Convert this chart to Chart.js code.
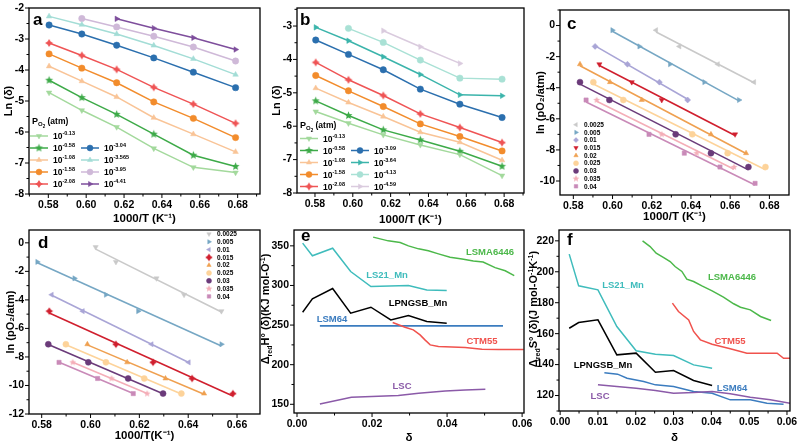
<!DOCTYPE html>
<html>
<head>
<meta charset="utf-8">
<script src="https://cdn.jsdelivr.net/npm/chart.js@4.4.1/dist/chart.umd.min.js"></script>
<style>
html, body { margin: 0; padding: 0; background: #fff; }
#wrap { position: relative; width: 802px; height: 446px; overflow: hidden; }
#wrap canvas { position: absolute; left: 0; top: 0; }
</style>
</head>
<body>
<div id="wrap">
  <canvas id="pa" width="802" height="446"></canvas>
  <canvas id="pb" width="802" height="446"></canvas>
  <canvas id="pc" width="802" height="446"></canvas>
  <canvas id="pd" width="802" height="446"></canvas>
  <canvas id="pe" width="802" height="446"></canvas>
  <canvas id="pf" width="802" height="446"></canvas>
</div>
<script>
// 1000/T of the measured temperatures (a, b)
const invT = [0.5804, 0.5977, 0.6161, 0.6357, 0.6566, 0.6789];

// panel a : ln(delta), one array per pO2
const aPO2 = ['-0.13', '-0.58', '-1.08', '-1.58', '-2.08', '-3.04', '-3.565', '-3.95', '-4.41'];
const a013 = [-4.73, -5.30, -5.84, -6.53, -7.14, -7.31];
const a058 = [-4.33, -4.89, -5.43, -6.07, -6.75, -7.11];
const a108 = [-3.88, -4.36, -4.87, -5.54, -6.07, -6.64];
const a158 = [-3.48, -3.94, -4.41, -5.03, -5.56, -6.18];
const a208 = [-3.13, -3.53, -3.98, -4.56, -5.10, -5.72];
const a304 = [-2.55, -2.84, -3.20, -3.61, -4.07, -4.57];
const a3565 = [-2.27, -2.54, -2.84, -3.21, -3.64, -4.15];
const a395 = [null, -2.34, -2.61, -2.91, -3.26, -3.71];
const a441 = [null, null, -2.35, -2.65, -2.96, -3.34];

// panel b
const bPO2 = ['-0.13', '-0.58', '-1.08', '-1.58', '-2.08', '-3.09', '-3.64', '-4.13', '-4.59'];
const b013 = [-5.56, -5.91, -6.26, -6.56, -6.85, -7.48];
const b058 = [-5.24, -5.68, -6.11, -6.41, -6.75, -7.20];
const b108 = [-4.86, -5.29, -5.71, -6.18, -6.48, -7.02];
const b158 = [-4.48, -4.94, -5.41, -5.93, -6.31, -6.74];
const b208 = [-4.09, -4.61, -5.08, -5.63, -6.04, -6.49];
const b309 = [-3.42, -3.85, -4.31, -4.89, -5.34, -5.74];
const b364 = [-3.04, -3.44, -3.92, -4.45, -5.06, -5.09];
const b413 = [null, -3.07, -3.49, -4.02, -4.56, -4.59];
const b459 = [null, null, -3.14, -3.62, -4.12, null];

// panel c : ln(pO2) levels and 1000/T at each level for every delta
const deltaNames = ['0.0025', '0.005', '0.01', '0.015', '0.02', '0.025', '0.03', '0.035', '0.04'];
const lnPa = [-0.30, -1.34, -2.49, -3.64, -4.79, -7.00, -8.21, -9.10, -10.15];
const c0025 = [0.6222, 0.6341, 0.6537, 0.6722, null, null, null, null, null];
const c005 = [0.5999, 0.6137, 0.6293, 0.6468, 0.6645, null, null, null, null];
const c01 = [null, 0.5911, 0.6076, 0.6239, 0.6383, null, null, null, null];
const c015 = [null, null, 0.5933, 0.6098, 0.6251, 0.6625, null, null, null];
const c02 = [null, null, 0.5834, 0.5987, 0.6149, 0.6502, 0.6681, null, null];
const c025 = [null, null, null, 0.5902, 0.6055, 0.6407, 0.6587, 0.6780, null];
const c03 = [null, null, null, 0.5834, 0.5984, 0.6322, 0.6502, 0.6693, null];
const c035 = [null, null, null, null, 0.5919, 0.6251, 0.6429, 0.6620, null];
const c04 = [null, null, null, null, 0.5865, 0.6186, 0.6366, 0.6548, 0.6727];

// panel d
const lnPb = [-0.30, -1.34, -2.49, -3.64, -4.79, -7.11, -8.38, -9.51, -10.57];
const d0025 = [0.6021, 0.6104, 0.6270, 0.6383, 0.6536, null, null, null, null];
const d005 = [null, 0.5782, 0.5934, 0.6063, 0.6195, 0.6536, null, null, null];
const d01 = [null, null, null, 0.5841, 0.5968, 0.6250, 0.6402, null, null];
const d015 = [null, null, null, null, 0.5831, 0.6104, 0.6256, 0.6416, 0.6583];
const d02 = [null, null, null, null, null, 0.5987, 0.6150, 0.6307, 0.6465];
const d025 = [null, null, null, null, null, 0.5899, 0.6063, 0.6220, 0.6372];
const d03 = [null, null, null, null, null, 0.5827, 0.5991, 0.6154, 0.6297];
const d035 = [null, null, null, null, null, null, 0.5927, 0.6086, 0.6232];
const d04 = [null, null, null, null, null, null, 0.5871, 0.6029, 0.6175];

// panel e : enthalpy vs delta
const eLS21x = [0.0015, 0.0041, 0.0095, 0.0143, 0.0197, 0.0297, 0.0346, 0.0399];
const eLS21y = [353.4, 337.4, 347.0, 317.6, 298.6, 299.9, 294.4, 293.6];
const ePNx = [0.0015, 0.0041, 0.0095, 0.0143, 0.0197, 0.0250, 0.0297, 0.0346, 0.0399];
const ePNy = [266.2, 283.0, 296.1, 265.0, 272.5, 256.5, 262.0, 254.4, 252.3];
const eLSM64x = [0.0061, 0.0549];
const eLSM64y = [249, 249];
const eCTMx = [0.0255, 0.0288, 0.0310, 0.0328, 0.0341, 0.0355, 0.0377, 0.0413, 0.0448, 0.0493, 0.0537, 0.0604];
const eCTMy = [253.2, 247.3, 243.9, 237.6, 231.3, 225.0, 222.9, 222.4, 221.6, 219.5, 219.0, 219.0];
const eLSMAx = [0.0203, 0.0243, 0.0275, 0.0297, 0.0324, 0.0350, 0.0377, 0.0408, 0.0440, 0.0470, 0.0496, 0.0528, 0.0555, 0.0579];
const eLSMAy = [361.0, 356.3, 354.2, 350.0, 346.2, 343.7, 339.9, 335.7, 333.5, 331.0, 329.5, 322.5, 318.5, 312.5];
const eLSCx = [0.0061, 0.0145, 0.0199, 0.0270, 0.0324, 0.0395, 0.0448, 0.0502];
const eLSCy = [150.4, 158.8, 159.7, 161.0, 163.9, 166.8, 168.0, 168.9];

// panel f : entropy vs delta
const fLS21x = [0.0024, 0.0049, 0.0100, 0.0150, 0.0201, 0.0252, 0.0300, 0.0353, 0.0402];
const fLS21y = [211.4, 190.9, 188.3, 164.6, 148.9, 146.7, 145.9, 139.8, 137.7];
const fPNx = [0.0024, 0.0049, 0.0100, 0.0150, 0.0201, 0.0252, 0.0300, 0.0353, 0.0402];
const fPNy = [163.5, 167.2, 168.9, 146.3, 147.4, 135.1, 136.2, 129.7, 126.5];
const fLSM64x = [0.0117, 0.0152, 0.0177, 0.0221, 0.0252, 0.0300, 0.0353, 0.0402, 0.0450, 0.0503, 0.0547, 0.0591];
const fLSM64y = [134.7, 133.8, 131.2, 129.1, 126.9, 125.8, 122.6, 121.5, 117.2, 117.2, 115.0, 114.4];
const fLSCx = [0.0100, 0.0150, 0.0201, 0.0252, 0.0300, 0.0353, 0.0402, 0.0450, 0.0503, 0.0556, 0.0609];
const fLSCy = [126.9, 125.8, 124.7, 123.2, 121.5, 121.9, 122.6, 121.1, 118.9, 117.2, 115.0];
const fLSMAx = [0.0218, 0.0238, 0.0254, 0.0274, 0.0291, 0.0304, 0.0322, 0.0335, 0.0353, 0.0375, 0.0402, 0.0432, 0.0459, 0.0477, 0.0503, 0.0530, 0.0558];
const fLSMAy = [220.0, 216.3, 212.0, 209.2, 206.6, 203.4, 200.2, 195.2, 193.7, 190.9, 187.7, 183.6, 179.3, 177.1, 175.4, 171.1, 168.5];
const fCTMx = [0.0297, 0.0313, 0.0340, 0.0353, 0.0371, 0.0402, 0.0450, 0.0494, 0.0543, 0.0574, 0.0591, 0.0609];
const fCTMy = [179.7, 174.3, 168.9, 161.4, 156.0, 153.2, 150.2, 147.4, 147.4, 147.4, 144.1, 144.1];

// tick labels
const abXTicks = [0.58, 0.60, 0.62, 0.64, 0.66, 0.68];
const aYTicks = [-8, -7, -6, -5, -4, -3, -2];
const bYTicks = [-8, -7, -6, -5, -4, -3];
const cYTicks = [-10, -8, -6, -4, -2, 0];
const dXTicks = [0.58, 0.60, 0.62, 0.64, 0.66];
const dYTicks = [-12, -10, -8, -6, -4, -2, 0];
const eXTicks = [0.00, 0.02, 0.04, 0.06];
const eYTicks = [150, 200, 250, 300, 350];
const fXTicks = [0.00, 0.01, 0.02, 0.03, 0.04, 0.05, 0.06];
const fYTicks = [120, 140, 160, 180, 200, 220];

const FONT = "'Liberation Sans', Arial, sans-serif";
Chart.defaults.font.family = FONT;
Chart.defaults.color = '#000';

// filled star marker (Chart.js 'star' is only strokes)
function starImg(color, r, n, inner) {
    const s = Math.ceil(r * 2 + 2);
    const c = document.createElement('canvas');
    c.width = s; c.height = s;
    const g = c.getContext('2d');
    g.fillStyle = color;
    g.beginPath();
    for (let i = 0; i < n * 2; i++) {
        const rad = i % 2 ? r * inner : r;
        const ang = -Math.PI / 2 + i * Math.PI / n;
        g.lineTo(s / 2 + rad * Math.cos(ang), s / 2 + rad * Math.sin(ang));
    }
    g.closePath();
    g.fill();
    return c;
}

const aStyle = [
    { c: '#a3d99c', m: 'triangle', r: 180 },
    { c: '#3daa48', m: starImg('#3daa48', 4.2, 5, 0.45) },
    { c: '#f9c497', m: 'triangle' },
    { c: '#f28c2c', m: 'circle' },
    { c: '#ef5455', m: starImg('#ef5455', 4, 4, 0.55) },
    { c: '#2b6fae', m: 'circle' },
    { c: '#a3ddd6', m: 'triangle' },
    { c: '#cfb9d8', m: 'circle' },
    { c: '#7e4e9c', m: 'triangle', r: 90 }
];
const bStyle = aStyle.slice(0, 5).concat([
    { c: '#2b6fae', m: 'circle' },
    { c: '#3bb4ab', m: 'triangle', r: 90 },
    { c: '#a9e1d5', m: 'circle' },
    { c: '#dacbde', m: 'triangle', r: 90 }
]);
const cStyle = [
    { c: '#c9c9c9', m: 'triangle', r: -90 },
    { c: '#76a7c4', m: 'triangle', r: 90 },
    { c: '#a9a5d6', m: 'rectRot' },
    { c: '#d01f2e', m: 'triangle', r: 180 },
    { c: '#efa050', m: 'triangle' },
    { c: '#fdd39a', m: 'circle' },
    { c: '#6b3b7a', m: 'circle' },
    { c: '#f4aeb8', m: starImg('#f4aeb8', 3.6, 5, 0.45) },
    { c: '#c98ab8', m: 'rect' }
];
const dStyle = [
    { c: '#c9c9c9', m: 'triangle', r: 180 },
    { c: '#76a7c4', m: 'triangle', r: 90 },
    { c: '#a9a5d6', m: 'triangle', r: -90 },
    { c: '#d01f2e', m: starImg('#d01f2e', 3.8, 4, 0.6) },
    { c: '#efa050', m: 'triangle' },
    { c: '#fdd39a', m: 'circle' },
    { c: '#6b3b7a', m: 'circle' },
    { c: '#f4aeb8', m: starImg('#f4aeb8', 3.6, 5, 0.45) },
    { c: '#c98ab8', m: 'rect' }
];

function lineSet(xs, ys, st) {
    const pts = [];
    xs.forEach(function(x, i) {
        if (ys[i] !== null && x !== null) pts.push({ x: x, y: ys[i] });
    });
    return {
        data: pts, borderColor: st.c, backgroundColor: st.c, borderWidth: st.w || 1.5,
        pointStyle: st.m || 'circle', pointRotation: st.r || 0, pointRadius: st.m ? 3.2 : 0,
        pointBackgroundColor: st.c, pointBorderColor: st.c, pointBorderWidth: 0.5
    };
}

// isodelta points plus their linear fit
function fitSets(xs, levels, st) {
    const pts = [];
    xs.forEach(function(x, i) { if (x !== null) pts.push({ x: x, y: levels[i] }); });
    let sx = 0, sy = 0, sxx = 0, sxy = 0;
    pts.forEach(function(p) { sx += p.x; sy += p.y; sxx += p.x * p.x; sxy += p.x * p.y; });
    const n = pts.length;
    const k = (n * sxy - sx * sy) / (n * sxx - sx * sx);
    const b0 = (sy - k * sx) / n;
    const x0 = pts[0].x, x1 = pts[pts.length - 1].x;
    return [
        { data: [{ x: x0, y: k * x0 + b0 }, { x: x1, y: k * x1 + b0 }], borderColor: st.c, borderWidth: 1.6, pointRadius: 0 },
        { data: pts, showLine: false, pointStyle: st.m, pointRotation: st.r || 0, pointRadius: 3,
          pointBackgroundColor: st.c, pointBorderColor: st.c, pointBorderWidth: 0.5 }
    ];
}

function rich(ctx, parts, x, y, align) {
    let w = 0;
    parts.forEach(function(p) { ctx.font = 'bold ' + p[1] + 'px ' + FONT; w += ctx.measureText(p[0]).width; });
    let cx = align === 'center' ? x - w / 2 : x;
    parts.forEach(function(p) {
        ctx.font = 'bold ' + p[1] + 'px ' + FONT;
        ctx.fillText(p[0], cx, y + (p[2] || 0));
        cx += ctx.measureText(p[0]).width;
    });
}

function marker(ctx, st, x, y, r) {
    ctx.fillStyle = st.c;
    ctx.strokeStyle = st.c;
    ctx.lineWidth = 0.5;
    Chart.helpers.drawPoint(ctx, { pointStyle: st.m, rotation: st.r || 0, radius: r, borderWidth: 0.5 }, x, y);
}

const deco = {
    id: 'deco',
    afterDraw(chart, args, o) {
        const ctx = chart.ctx, ca = chart.chartArea;
        ctx.save();
        ctx.strokeStyle = '#000';
        ctx.lineWidth = 1.3;
        ctx.strokeRect(ca.left, ca.top, ca.right - ca.left, ca.bottom - ca.top);
        ctx.lineWidth = 1;
        ctx.beginPath();
        ['x', 'y'].forEach(function(id) {
            const s = chart.scales[id];
            const major = s.ticks.map(function(t) { return t.value; });
            const step = major[1] - major[0];
            const marks = major.map(function(v) { return [v, 4]; });
            for (let v = major[0] - step / 2; v <= s.max; v += step) if (v >= s.min) marks.push([v, 2.5]);
            marks.forEach(function(m) {
                const p = s.getPixelForValue(m[0]);
                if (id === 'x') { ctx.moveTo(p, ca.bottom); ctx.lineTo(p, ca.bottom + m[1]); }
                else { ctx.moveTo(ca.left, p); ctx.lineTo(ca.left - m[1], p); }
            });
        });
        ctx.stroke();

        ctx.fillStyle = '#000';
        ctx.textAlign = 'left';
        ctx.textBaseline = 'alphabetic';
        ctx.font = 'bold 17px ' + FONT;
        ctx.fillText(o.letter, o.lx, o.ly);

        if (o.po2) {
            const L = o.po2;
            ctx.fillStyle = '#000';
            rich(ctx, [['P', 9], ['O', 6, 2], ['2', 4.5, 3.5], [' (atm)', 8.5]], L.tx, L.ty + 3, 'left');
            L.styles.forEach(function(st, i) {
                const col = i < 5 ? 0 : 1;
                const row = i < 5 ? i : i - 4;
                const y = L.rows[row];
                const x0 = L.cols[col];
                ctx.strokeStyle = st.c;
                ctx.lineWidth = 1.5;
                ctx.beginPath(); ctx.moveTo(x0, y); ctx.lineTo(x0 + 18, y); ctx.stroke();
                marker(ctx, st, x0 + 9, y, 3);
                ctx.fillStyle = '#000';
                rich(ctx, [['10', 8.5], [L.names[i], 5.5, -3.8]], x0 + 23, y + 3, 'left');
            });
        }
        if (o.dl) {
            const D = o.dl;
            D.styles.forEach(function(st, i) {
                const y = D.y0 + i * D.dy;
                marker(ctx, st, D.x, y, 2.5);
                ctx.fillStyle = '#000';
                ctx.textBaseline = 'middle';
                ctx.font = 'bold 6.5px ' + FONT;
                ctx.fillText(deltaNames[i], D.x + 8, y + 0.5);
            });
            ctx.textBaseline = 'alphabetic';
        }
        if (o.notes) {
            ctx.textAlign = 'center';
            ctx.textBaseline = 'middle';
            ctx.font = 'bold 9.5px ' + FONT;
            o.notes.forEach(function(n) { ctx.fillStyle = n[1]; ctx.fillText(n[0], n[2], n[3]); });
            ctx.textAlign = 'left';
            ctx.textBaseline = 'alphabetic';
        }
        if (o.ytitle) {
            ctx.fillStyle = '#000';
            ctx.translate(o.ytitle.x, o.ytitle.y);
            ctx.rotate(-Math.PI / 2);
            rich(ctx, o.ytitle.parts, 0, 4, 'center');
        }
        ctx.restore();
    }
};

function makePanel(id, p) {
    const W = 802, H = 446;
    return new Chart(document.getElementById(id), {
        type: 'line',
        data: { datasets: p.datasets },
        options: {
            responsive: false,
            animation: false,
            layout: { padding: { left: p.area[0] - p.yW, top: p.area[1], right: W - p.area[2], bottom: H - p.area[3] - p.xH } },
            plugins: { legend: { display: false }, tooltip: { enabled: false }, deco: p.deco },
            scales: {
                x: {
                    type: 'linear', min: p.xr[0], max: p.xr[1],
                    afterBuildTicks: function(s) { s.ticks = p.xt.map(function(v) { return { value: v }; }); },
                    afterFit: function(s) { s.height = p.xH; },
                    grid: { display: false, tickLength: 4 },
                    border: { display: false },
                    ticks: { padding: 1, maxRotation: 0, autoSkip: false, font: { size: 10.5, weight: 'bold' },
                             callback: function(v) { return v.toFixed(2); } },
                    title: { display: true, text: p.xTitle, font: { size: 11.5, weight: 'bold' }, padding: { top: 0, bottom: 2 } }
                },
                y: {
                    type: 'linear', min: p.yr[0], max: p.yr[1],
                    afterBuildTicks: function(s) { s.ticks = p.yt.map(function(v) { return { value: v }; }); },
                    afterFit: function(s) { s.width = p.yW; },
                    grid: { display: false, tickLength: 4 },
                    border: { display: false },
                    ticks: { padding: 1, font: { size: 10.5, weight: 'bold' }, callback: function(v) { return String(v); } },
                    title: { display: !!p.yTitle, text: p.yTitle, font: { size: 11, weight: 'bold' }, padding: { top: 2, bottom: 0 } }
                }
            }
        },
        plugins: [deco]
    });
}

const aSets = [a013, a058, a108, a158, a208, a304, a3565, a395, a441].map(function(ys, i) { return lineSet(invT, ys, aStyle[i]); });
const bSets = [b013, b058, b108, b158, b208, b309, b364, b413, b459].map(function(ys, i) { return lineSet(invT, ys, bStyle[i]); });
let cSets = [], dSets = [];
[c0025, c005, c01, c015, c02, c025, c03, c035, c04].forEach(function(xs, i) { cSets = cSets.concat(fitSets(xs, lnPa, cStyle[i])); });
[d0025, d005, d01, d015, d02, d025, d03, d035, d04].forEach(function(xs, i) { dSets = dSets.concat(fitSets(xs, lnPb, dStyle[i])); });

const cLS21 = '#3fbcbc', cPN = '#000000', cLSM64 = '#3b7cbf', cCTM = '#f0524d', cLSMA = '#4cb84a', cLSC = '#8b5aa8';
const eSets = [
    lineSet(eLSMAx, eLSMAy, { c: cLSMA }), lineSet(eLS21x, eLS21y, { c: cLS21 }), lineSet(ePNx, ePNy, { c: cPN }),
    lineSet(eCTMx, eCTMy, { c: cCTM }), lineSet(eLSM64x, eLSM64y, { c: cLSM64, w: 1.8 }), lineSet(eLSCx, eLSCy, { c: cLSC })
];
const fSets = [
    lineSet(fLSMAx, fLSMAy, { c: cLSMA }), lineSet(fLS21x, fLS21y, { c: cLS21 }), lineSet(fCTMx, fCTMy, { c: cCTM }),
    lineSet(fPNx, fPNy, { c: cPN }), lineSet(fLSCx, fLSCy, { c: cLSC }), lineSet(fLSM64x, fLSM64y, { c: cLSM64 })
];

makePanel('pa', {
    area: [29, 8, 260, 194], yW: 29, xH: 34, xr: [0.5698, 0.6918], yr: [-8, -2], xt: abXTicks, yt: aYTicks,
    xTitle: '1000/T (K⁻¹)', yTitle: 'Ln (δ)', datasets: aSets,
    deco: { letter: 'a', lx: 33, ly: 25,
            po2: { tx: 32, ty: 121, rows: [136, 148, 160, 172, 184], cols: [30, 81], styles: aStyle, names: aPO2 } }
});
makePanel('pb', {
    area: [297, 8, 524, 193], yW: 29, xH: 36, xr: [0.5705, 0.6905], yr: [-8, -2.46], xt: abXTicks, yt: bYTicks,
    xTitle: '1000/T (K⁻¹)', yTitle: 'Ln (δ)', datasets: bSets,
    deco: { letter: 'b', lx: 300, ly: 25,
            po2: { tx: 300, ty: 125, rows: [138.5, 150.5, 162.5, 174.5, 186.5], cols: [300, 351], styles: bStyle, names: bPO2 } }
});
makePanel('pc', {
    area: [560, 10, 789, 195], yW: 28, xH: 31, xr: [0.5732, 0.690], yr: [-10.9, 1], xt: abXTicks, yt: cYTicks,
    xTitle: '1000/T (K⁻¹)', yTitle: 'ln (pO₂/atm)', datasets: cSets,
    deco: { letter: 'c', lx: 567, ly: 29, dl: { x: 576, y0: 124.7, dy: 7.7, styles: cStyle } }
});
makePanel('pd', {
    area: [29, 230, 260, 414], yW: 27, xH: 31, xr: [0.5748, 0.6694], yr: [-12, 0.9], xt: dXTicks, yt: dYTicks,
    xTitle: '1000/T(K⁻¹)', yTitle: 'ln (pO₂/atm)', datasets: dSets,
    deco: { letter: 'd', lx: 38, ly: 248, dl: { x: 209, y0: 234, dy: 7.8, styles: dStyle } }
});
makePanel('pe', {
    area: [294, 230, 524, 413], yW: 30, xH: 34, xr: [-0.0008, 0.0605], yr: [139, 370], xt: eXTicks, yt: eYTicks,
    xTitle: 'δ', yTitle: '', datasets: eSets,
    deco: { letter: 'e', lx: 301, ly: 241,
            notes: [['LSMA6446', cLSMA, 490, 252], ['LS21_Mn', cLS21, 387, 275], ['LPNGSB_Mn', cPN, 418, 303],
                    ['LSM64', cLSM64, 332, 319], ['CTM55', cCTM, 482, 341], ['LSC', cLSC, 402, 386]],
            ytitle: { x: 265, y: 309, parts: [['Δ', 11], ['red', 7, 2.5], ['H°', 11], [' (δ)(KJ mol-O', 11], ['-1', 7, -4.5], [')', 11]] } }
});
makePanel('pf', {
    area: [559, 230, 790, 411], yW: 30, xH: 36, xr: [-0.0003, 0.0608], yr: [110, 227], xt: fXTicks, yt: fYTicks,
    xTitle: 'δ', yTitle: '', datasets: fSets,
    deco: { letter: 'f', lx: 567, ly: 245,
            notes: [['LSMA6446', cLSMA, 732, 277], ['LS21_Mn', cLS21, 623, 285], ['CTM55', cCTM, 730, 341],
                    ['LPNGSB_Mn', cPN, 603, 365], ['LSM64', cLSM64, 732, 388], ['LSC', cLSC, 600, 396]],
            ytitle: { x: 533, y: 309, parts: [['Δ', 11], ['red', 7, 2.5], ['S°', 11], [' (δ)(J mol-O', 11], ['-1', 7, -4.5], ['K', 11], ['-1', 7, -4.5], [')', 11]] } }
});
</script>
</body>
</html>
